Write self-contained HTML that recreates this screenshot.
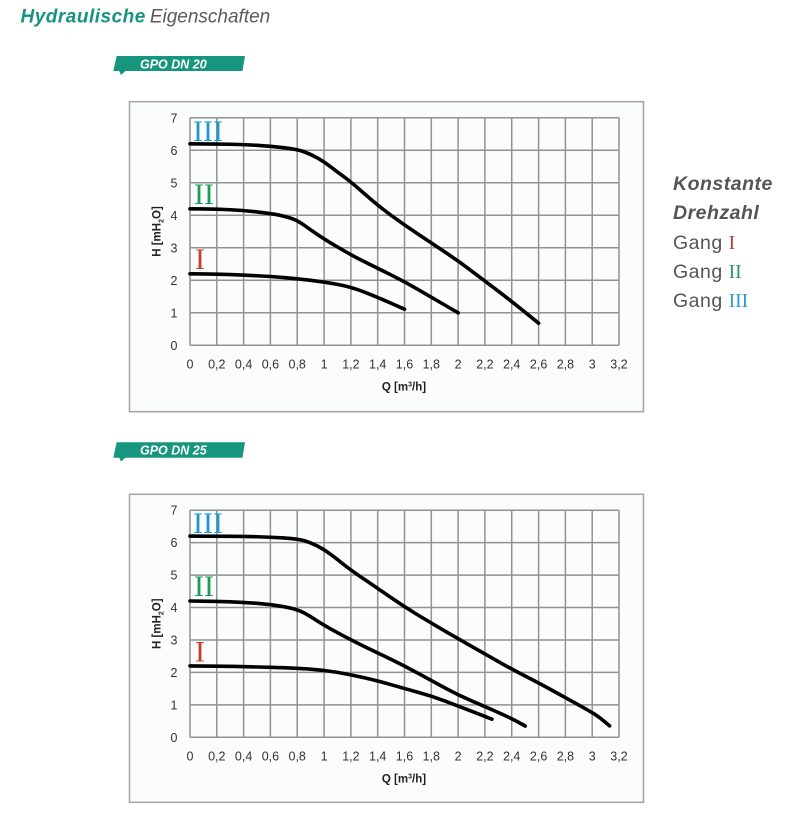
<!DOCTYPE html>
<html>
<head>
<meta charset="utf-8">
<style>
html,body{margin:0;padding:0;background:#fff;}
svg{display:block;}
</style>
</head>
<body>
<svg width="791" height="815" viewBox="0 0 791 815" xmlns="http://www.w3.org/2000/svg">
  <rect width="791" height="815" fill="#ffffff"/>

  <!-- Title -->
  <text x="20.5" y="22.7" font-family="Liberation Sans, sans-serif" font-size="19" font-style="italic"><tspan font-weight="bold" fill="#16937f" letter-spacing="0.5">Hydraulische</tspan><tspan fill="#5a5a5a" dx="4">Eigenschaften</tspan></text>

  <!-- Banner 1 -->
  <polygon points="116.7,56 245,56 242.5,71 113.3,71" fill="#17967f"/>
  <polygon points="119,70.5 126,70.5 121,75" fill="#17967f"/>
  <text x="140" y="68.3" font-family="Liberation Sans, sans-serif" font-size="12.5" font-weight="bold" font-style="italic" fill="#ffffff">GPO DN 20</text>

  <!-- Banner 2 -->
  <polygon points="116.7,442.3 245,442.3 242.5,457.7 113.3,457.7" fill="#17967f"/>
  <polygon points="119,457.2 126,457.2 121,461.5" fill="#17967f"/>
  <text x="140" y="454.5" font-family="Liberation Sans, sans-serif" font-size="12.5" font-weight="bold" font-style="italic" fill="#ffffff">GPO DN 25</text>

  <!-- Right legend -->
  <g font-family="Liberation Sans, sans-serif" font-size="19.5" fill="#555555" letter-spacing="0.5">
    <text x="673" y="190" font-weight="bold" font-style="italic">Konstante</text>
    <text x="673" y="219" font-weight="bold" font-style="italic">Drehzahl</text>
    <text x="673" y="249">Gang <tspan font-family="Liberation Serif, serif" fill="#c0392b" letter-spacing="0">I</tspan></text>
    <text x="673" y="278">Gang <tspan font-family="Liberation Serif, serif" fill="#1f9d55" letter-spacing="0">II</tspan></text>
    <text x="673" y="307">Gang <tspan font-family="Liberation Serif, serif" fill="#2a9bd0" letter-spacing="0">III</tspan></text>
  </g>

  <!-- ================= CHART 1 ================= -->
  <g>
    <rect x="129.5" y="101.7" width="514" height="310" fill="#fbfcfc" stroke="#a3a3a3" stroke-width="1.5"/>
    <g stroke="#929292" stroke-width="1.5">
      <line x1="190" y1="117.8" x2="190" y2="345.3"/>
      <line x1="216.8" y1="117.8" x2="216.8" y2="345.3"/>
      <line x1="243.6" y1="117.8" x2="243.6" y2="345.3"/>
      <line x1="270.4" y1="117.8" x2="270.4" y2="345.3"/>
      <line x1="297.2" y1="117.8" x2="297.2" y2="345.3"/>
      <line x1="324.1" y1="117.8" x2="324.1" y2="345.3"/>
      <line x1="350.9" y1="117.8" x2="350.9" y2="345.3"/>
      <line x1="377.7" y1="117.8" x2="377.7" y2="345.3"/>
      <line x1="404.5" y1="117.8" x2="404.5" y2="345.3"/>
      <line x1="431.3" y1="117.8" x2="431.3" y2="345.3"/>
      <line x1="458.1" y1="117.8" x2="458.1" y2="345.3"/>
      <line x1="484.9" y1="117.8" x2="484.9" y2="345.3"/>
      <line x1="511.7" y1="117.8" x2="511.7" y2="345.3"/>
      <line x1="538.6" y1="117.8" x2="538.6" y2="345.3"/>
      <line x1="565.4" y1="117.8" x2="565.4" y2="345.3"/>
      <line x1="592.2" y1="117.8" x2="592.2" y2="345.3"/>
      <line x1="619" y1="117.8" x2="619" y2="345.3"/>
      <line x1="190" y1="117.8" x2="619" y2="117.8"/>
      <line x1="190" y1="150.3" x2="619" y2="150.3"/>
      <line x1="190" y1="182.8" x2="619" y2="182.8"/>
      <line x1="190" y1="215.3" x2="619" y2="215.3"/>
      <line x1="190" y1="247.8" x2="619" y2="247.8"/>
      <line x1="190" y1="280.3" x2="619" y2="280.3"/>
      <line x1="190" y1="312.8" x2="619" y2="312.8"/>
      <line x1="190" y1="345.3" x2="619" y2="345.3"/>
    </g>
    <g font-family="Liberation Sans, sans-serif" font-size="12.5" fill="#333333" text-anchor="end">
      <text x="177.5" y="122.3">7</text>
      <text x="177.5" y="154.8">6</text>
      <text x="177.5" y="187.3">5</text>
      <text x="177.5" y="219.8">4</text>
      <text x="177.5" y="252.3">3</text>
      <text x="177.5" y="284.8">2</text>
      <text x="177.5" y="317.3">1</text>
      <text x="177.5" y="349.8">0</text>
    </g>
    <g font-family="Liberation Sans, sans-serif" font-size="12.5" fill="#333333" text-anchor="middle">
      <text x="190" y="368.5">0</text>
      <text x="216.8" y="368.5">0,2</text>
      <text x="243.6" y="368.5">0,4</text>
      <text x="270.4" y="368.5">0,6</text>
      <text x="297.2" y="368.5">0,8</text>
      <text x="324.1" y="368.5">1</text>
      <text x="350.9" y="368.5">1,2</text>
      <text x="377.7" y="368.5">1,4</text>
      <text x="404.5" y="368.5">1,6</text>
      <text x="431.3" y="368.5">1,8</text>
      <text x="458.1" y="368.5">2</text>
      <text x="484.9" y="368.5">2,2</text>
      <text x="511.7" y="368.5">2,4</text>
      <text x="538.6" y="368.5">2,6</text>
      <text x="565.4" y="368.5">2,8</text>
      <text x="592.2" y="368.5">3</text>
      <text x="619" y="368.5">3,2</text>
    </g>
    <text x="404" y="390.5" font-family="Liberation Sans, sans-serif" font-size="11.5" font-weight="bold" fill="#222222" text-anchor="middle">Q [m<tspan font-size="7" dy="-4">3</tspan><tspan dy="4">/h]</tspan></text>
    <text transform="translate(160.5,231.5) rotate(-90)" font-family="Liberation Sans, sans-serif" font-size="11.5" font-weight="bold" fill="#222222" text-anchor="middle">H [mH<tspan font-size="7" dy="3">2</tspan><tspan dy="-3">O]</tspan></text>

    <g font-family="Liberation Serif, serif" font-size="30">
      <text x="193" y="141" fill="#2596cc">III</text>
      <text x="194" y="204" fill="#1d9c55">II</text>
      <text x="195" y="269" fill="#c8402a">I</text>
    </g>

    <g fill="none" stroke="#000000" stroke-width="3.6" stroke-linejoin="round" stroke-linecap="round">
      <path d="M190,143.8 L203.4,143.9 Q216.8,144 230.2,144.25 Q243.6,144.5 257,145.3 Q270.4,146.1 283.8,147.7 Q297.2,149.3 303.95,151.75 Q310.7,154.2 317.4,157.95 Q324.1,161.7 330.8,166.9 Q337.5,172.1 344.2,176.95 Q350.9,181.8 364.3,193.65 Q377.7,205.5 391.1,215.3 Q404.5,225.1 417.9,234 Q431.3,242.9 444.7,251.85 Q458.1,260.8 471.5,270.9 Q484.9,281 498.3,291.2 Q511.7,301.4 525.15,312.3 L538.6,323.2"/>
      <path d="M190,208.8 L203.4,208.95 Q216.8,209.1 230.2,209.75 Q243.6,210.4 257,211.9 Q270.4,213.4 277.1,214.7 Q283.8,216 290.5,218.1 Q297.2,220.2 303.95,225.05 Q310.7,229.9 317.4,234.45 Q324.1,239 337.5,247 Q350.9,255 364.3,261.65 Q377.7,268.3 391.1,274.95 Q404.5,281.6 417.9,289.4 Q431.3,297.2 444.7,305 L458.1,312.8"/>
      <path d="M190,273.8 L203.4,273.95 Q216.8,274.1 230.2,274.6 Q243.6,275.1 257,275.75 Q270.4,276.4 283.8,277.55 Q297.2,278.7 310.65,280.3 Q324.1,281.9 337.5,284.35 Q350.9,286.8 364.3,292.05 Q377.7,297.3 391.1,303.25 L404.5,309.2"/>
    </g>
  </g>

  <!-- ================= CHART 2 ================= -->
  <g>
    <rect x="129.5" y="494.3" width="514" height="308" fill="#fbfcfc" stroke="#a3a3a3" stroke-width="1.5"/>
    <g stroke="#929292" stroke-width="1.5">
      <line x1="190" y1="510.2" x2="190" y2="737.3"/>
      <line x1="216.8" y1="510.2" x2="216.8" y2="737.3"/>
      <line x1="243.6" y1="510.2" x2="243.6" y2="737.3"/>
      <line x1="270.4" y1="510.2" x2="270.4" y2="737.3"/>
      <line x1="297.2" y1="510.2" x2="297.2" y2="737.3"/>
      <line x1="324.1" y1="510.2" x2="324.1" y2="737.3"/>
      <line x1="350.9" y1="510.2" x2="350.9" y2="737.3"/>
      <line x1="377.7" y1="510.2" x2="377.7" y2="737.3"/>
      <line x1="404.5" y1="510.2" x2="404.5" y2="737.3"/>
      <line x1="431.3" y1="510.2" x2="431.3" y2="737.3"/>
      <line x1="458.1" y1="510.2" x2="458.1" y2="737.3"/>
      <line x1="484.9" y1="510.2" x2="484.9" y2="737.3"/>
      <line x1="511.7" y1="510.2" x2="511.7" y2="737.3"/>
      <line x1="538.6" y1="510.2" x2="538.6" y2="737.3"/>
      <line x1="565.4" y1="510.2" x2="565.4" y2="737.3"/>
      <line x1="592.2" y1="510.2" x2="592.2" y2="737.3"/>
      <line x1="619" y1="510.2" x2="619" y2="737.3"/>
      <line x1="190" y1="510.2" x2="619" y2="510.2"/>
      <line x1="190" y1="542.6" x2="619" y2="542.6"/>
      <line x1="190" y1="575.1" x2="619" y2="575.1"/>
      <line x1="190" y1="607.5" x2="619" y2="607.5"/>
      <line x1="190" y1="640" x2="619" y2="640"/>
      <line x1="190" y1="672.4" x2="619" y2="672.4"/>
      <line x1="190" y1="704.9" x2="619" y2="704.9"/>
      <line x1="190" y1="737.3" x2="619" y2="737.3"/>
    </g>
    <g font-family="Liberation Sans, sans-serif" font-size="12.5" fill="#333333" text-anchor="end">
      <text x="177.5" y="514.7">7</text>
      <text x="177.5" y="547.1">6</text>
      <text x="177.5" y="579.6">5</text>
      <text x="177.5" y="612">4</text>
      <text x="177.5" y="644.5">3</text>
      <text x="177.5" y="676.9">2</text>
      <text x="177.5" y="709.4">1</text>
      <text x="177.5" y="741.8">0</text>
    </g>
    <g font-family="Liberation Sans, sans-serif" font-size="12.5" fill="#333333" text-anchor="middle">
      <text x="190" y="760.3">0</text>
      <text x="216.8" y="760.3">0,2</text>
      <text x="243.6" y="760.3">0,4</text>
      <text x="270.4" y="760.3">0,6</text>
      <text x="297.2" y="760.3">0,8</text>
      <text x="324.1" y="760.3">1</text>
      <text x="350.9" y="760.3">1,2</text>
      <text x="377.7" y="760.3">1,4</text>
      <text x="404.5" y="760.3">1,6</text>
      <text x="431.3" y="760.3">1,8</text>
      <text x="458.1" y="760.3">2</text>
      <text x="484.9" y="760.3">2,2</text>
      <text x="511.7" y="760.3">2,4</text>
      <text x="538.6" y="760.3">2,6</text>
      <text x="565.4" y="760.3">2,8</text>
      <text x="592.2" y="760.3">3</text>
      <text x="619" y="760.3">3,2</text>
    </g>
    <text x="404" y="782.3" font-family="Liberation Sans, sans-serif" font-size="11.5" font-weight="bold" fill="#222222" text-anchor="middle">Q [m<tspan font-size="7" dy="-4">3</tspan><tspan dy="4">/h]</tspan></text>
    <text transform="translate(160.5,623.7) rotate(-90)" font-family="Liberation Sans, sans-serif" font-size="11.5" font-weight="bold" fill="#222222" text-anchor="middle">H [mH<tspan font-size="7" dy="3">2</tspan><tspan dy="-3">O]</tspan></text>

    <g font-family="Liberation Serif, serif" font-size="30">
      <text x="193" y="533" fill="#2596cc">III</text>
      <text x="194" y="596" fill="#1d9c55">II</text>
      <text x="195" y="661.5" fill="#c8402a">I</text>
    </g>

    <g fill="none" stroke="#000000" stroke-width="3.6" stroke-linejoin="round" stroke-linecap="round">
      <path d="M190,536.1 L203.4,536.15 Q216.8,536.2 230.2,536.3 Q243.6,536.4 257,536.75 Q270.4,537.1 283.8,537.9 Q297.2,538.7 303.95,540.65 Q310.7,542.6 317.4,546 Q324.1,549.4 330.8,554.45 Q337.5,559.5 344.2,564.85 Q350.9,570.2 364.3,579.3 Q377.7,588.4 391.1,597.65 Q404.5,606.9 417.9,615 Q431.3,623.1 444.7,630.9 Q458.1,638.7 471.5,646.3 Q484.9,653.9 498.3,661.55 Q511.7,669.2 525.15,676 Q538.6,682.8 552,690.25 Q565.4,697.7 578.8,705.1 Q592.2,712.5 596.6,715.5 Q601,718.5 605.3,722.2 L609.6,725.9"/>
      <path d="M190,601 L203.4,601.15 Q216.8,601.3 230.2,601.8 Q243.6,602.3 257,603.3 Q270.4,604.3 283.8,606.7 Q297.2,609.1 303.95,612.85 Q310.7,616.6 317.4,620.95 Q324.1,625.3 337.5,632.65 Q350.9,640 364.3,646.45 Q377.7,652.9 391.1,659.4 Q404.5,665.9 417.9,673.2 Q431.3,680.5 444.7,687.8 Q458.1,695.1 471.5,700.8 Q484.9,706.5 498.3,712.5 Q511.7,718.5 518.45,722.25 L525.2,726"/>
      <path d="M190,665.9 L216.8,666.2 Q243.6,666.5 270.4,667.35 Q297.2,668.2 310.65,669.15 Q324.1,670.1 337.5,672.4 Q350.9,674.7 364.3,677.75 Q377.7,680.8 391.1,684.7 Q404.5,688.6 417.9,692.2 Q431.3,695.8 444.7,700.9 Q458.1,706 471.5,711.2 Q484.9,716.4 488.45,717.8 L492,719.2"/>
    </g>
  </g>
</svg>
</body>
</html>
